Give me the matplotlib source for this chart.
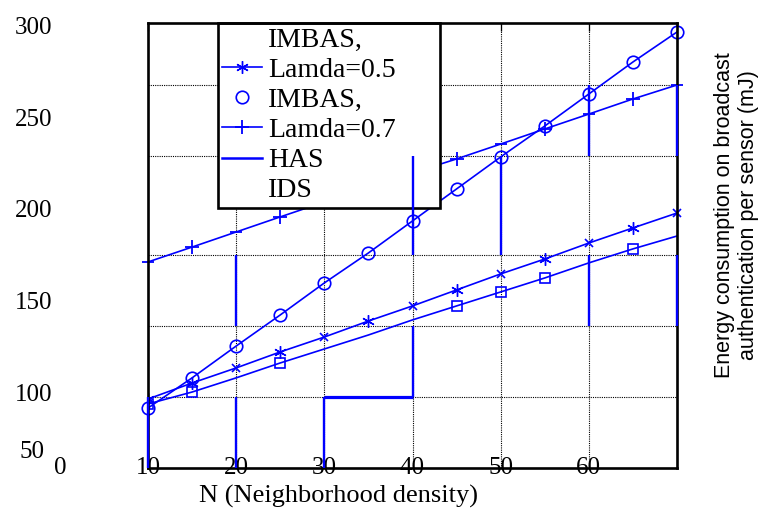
import matplotlib
matplotlib.use("Agg")
import matplotlib.pyplot as plt
from matplotlib.lines import Line2D

# ---------------- data ----------------
N = [10, 15, 20, 25, 30, 35, 40, 45, 50, 55, 60, 65, 70]
imbas_05 = [96.7, 105.4, 113.6, 122.3, 130.4, 139.1, 147.3, 156.0, 164.7, 172.8, 181.5, 189.7, 197.8]
imbas_07 = [91.8, 108.2, 125.5, 142.4, 159.8, 176.1, 193.5, 210.9, 228.3, 245.1, 262.5, 279.9, 296.2]
has_vals = [171.2, 179.3, 187.5, 195.7, 203.8, 212.0, 219.6, 227.2, 235.3, 243.5, 251.6, 259.8, 267.4]
ids_vals = [94.0, 100.5, 108.2, 116.3, 123.9, 131.5, 139.7, 147.3, 154.9, 162.5, 170.7, 178.3, 185.3]
ids_marked = [0, 1, 3, 7, 8, 9, 11]

# vertical bar-like segments
seg_x = [10, 20, 20, 30, 40, 40, 50, 60, 60, 70, 70]
seg_lo = [59.2, 136.4, 59.2, 59.2, 175.0, 97.8, 175.0, 228.8, 136.4, 228.8, 136.4]
seg_hi = [97.8, 175.0, 97.8, 97.8, 228.8, 136.4, 228.8, 267.4, 175.0, 267.4, 175.0]
step_y = [97.8]
step_x0 = [30]
step_x1 = [40]

grid_y = [97.8, 136.4, 175.0, 228.8, 267.4]
xticks = [10, 20, 30, 40, 50, 60]
xtick_labels = ["10", "20", "30", "40", "50", "60"]
yticks = [100, 150, 200, 250, 300]
ytick_labels = ["100", "150", "200", "250", "300"]

legend_labels = ["IMBAS,", "Lamda=0.5", "IMBAS,", "Lamda=0.7", "HAS", "IDS"]

BLUE = "#0000ff"
SERIF = "Liberation Serif"

fig = plt.figure(figsize=(7.61, 5.11), dpi=100)
ax = fig.add_axes([148 / 761, 1 - 468 / 511, 529 / 761, 445 / 511])
ax.set_xlim(10, 70)
ax.set_ylim(59.2, 301.1)

# grid
for gy in grid_y:
    ax.axhline(gy, color="black", lw=0.8, ls=(0, (1, 1)), zorder=1)
for gx in xticks[1:]:
    ax.axvline(gx, color="black", lw=0.8, ls=(0, (1, 1)), zorder=1)

# bar-like segments
ax.vlines(seg_x, seg_lo, seg_hi, color=BLUE, lw=1.7, zorder=2.6, clip_on=False)
ax.hlines(step_y, step_x0, step_x1, color=BLUE, lw=2.3, zorder=2.6)

# series
lw = 1.2
ax.plot(N, imbas_05, color=BLUE, lw=lw, marker=(6, 2, 0), ms=9, markevery=[0, 1, 3, 5, 7, 9, 11], zorder=2)
ax.plot(N, imbas_05, color=BLUE, lw=0, marker="x", ms=6, mew=1.2, markevery=[2, 4, 6, 8, 10, 12], zorder=2, clip_on=False)
ax.plot(N, imbas_07, color=BLUE, lw=lw, marker="o", ms=9, mfc="none", mew=1.2, zorder=2, clip_on=False)
ax.plot(N, has_vals, color=BLUE, lw=lw, marker="+", ms=10, mew=1.3, markevery=[1, 3, 5, 7, 9, 11], zorder=2)
ax.plot(N, has_vals, color=BLUE, lw=0, marker="_", ms=8, mew=1.3, markevery=[0, 2, 4, 6, 8, 10, 12], zorder=2, clip_on=False)
ax.plot(N, ids_vals, color=BLUE, lw=lw, marker="s", ms=7, mfc="none", mew=1.2, markevery=ids_marked, zorder=2)

# spines
for sp in ax.spines.values():
    sp.set_linewidth(1.9)
    sp.set_color("black")

# ticks
ax.set_xticks(xticks)
ax.set_xticklabels(xtick_labels, fontfamily=SERIF, fontsize=18)
ax.set_yticks(yticks)
ax.set_yticklabels(ytick_labels, fontfamily=SERIF, fontsize=18)
ax.tick_params(axis="y", length=0, pad=69)
ax.tick_params(axis="x", length=6, width=0.9, direction="in", top=True, bottom=False, pad=0)
for lbl in ax.get_xticklabels():
    lbl.set_va("center")
    lbl.set_ha("center")

ax.text(0, 59.2, "0", fontfamily=SERIF, fontsize=18, ha="center", va="center", clip_on=False)
ax.text(-1.7, 67.9, "50", fontfamily=SERIF, fontsize=18, ha="right", va="center", clip_on=False)

# axis labels
ax.set_xlabel("N (Neighborhood density)", fontfamily=SERIF, fontsize=19)
ax.xaxis.set_label_coords(0.361, -0.065)
ax.xaxis.label.set_va("center")
ax.set_ylabel("Energy consumption on broadcast\nauthentication per sensor (mJ)",
              fontfamily="Liberation Sans", fontsize=15.5)
ax.yaxis.set_label_coords(1.112, 0.5685)
ax.yaxis.label.set(va="center", ha="center", multialignment="center")

# legend
handles = [
    Line2D([], [], color="none"),
    Line2D([], [], color=BLUE, lw=lw, marker=(6, 2, 0), ms=9),
    Line2D([], [], color=BLUE, lw=0, marker="o", ms=9, mfc="none", mew=1.2),
    Line2D([], [], color=BLUE, lw=lw, marker="+", ms=10, mew=1.3),
    Line2D([], [], color=BLUE, lw=1.8),
    Line2D([], [], color="none"),
]
leg = ax.legend(handles, legend_labels, loc="upper left",
                bbox_to_anchor=(70 / 529, 0.0, 222 / 529, 1.0), mode="expand",
                borderaxespad=0, prop={"family": SERIF, "size": 20},
                frameon=True, fancybox=False, framealpha=1, edgecolor="black",
                borderpad=0.15, labelspacing=0.17, handlelength=1.45,
                handletextpad=0.2)
leg.get_frame().set_linewidth(1.9)
leg.set_zorder(2.3)

fig.savefig("out.png", dpi=100)
